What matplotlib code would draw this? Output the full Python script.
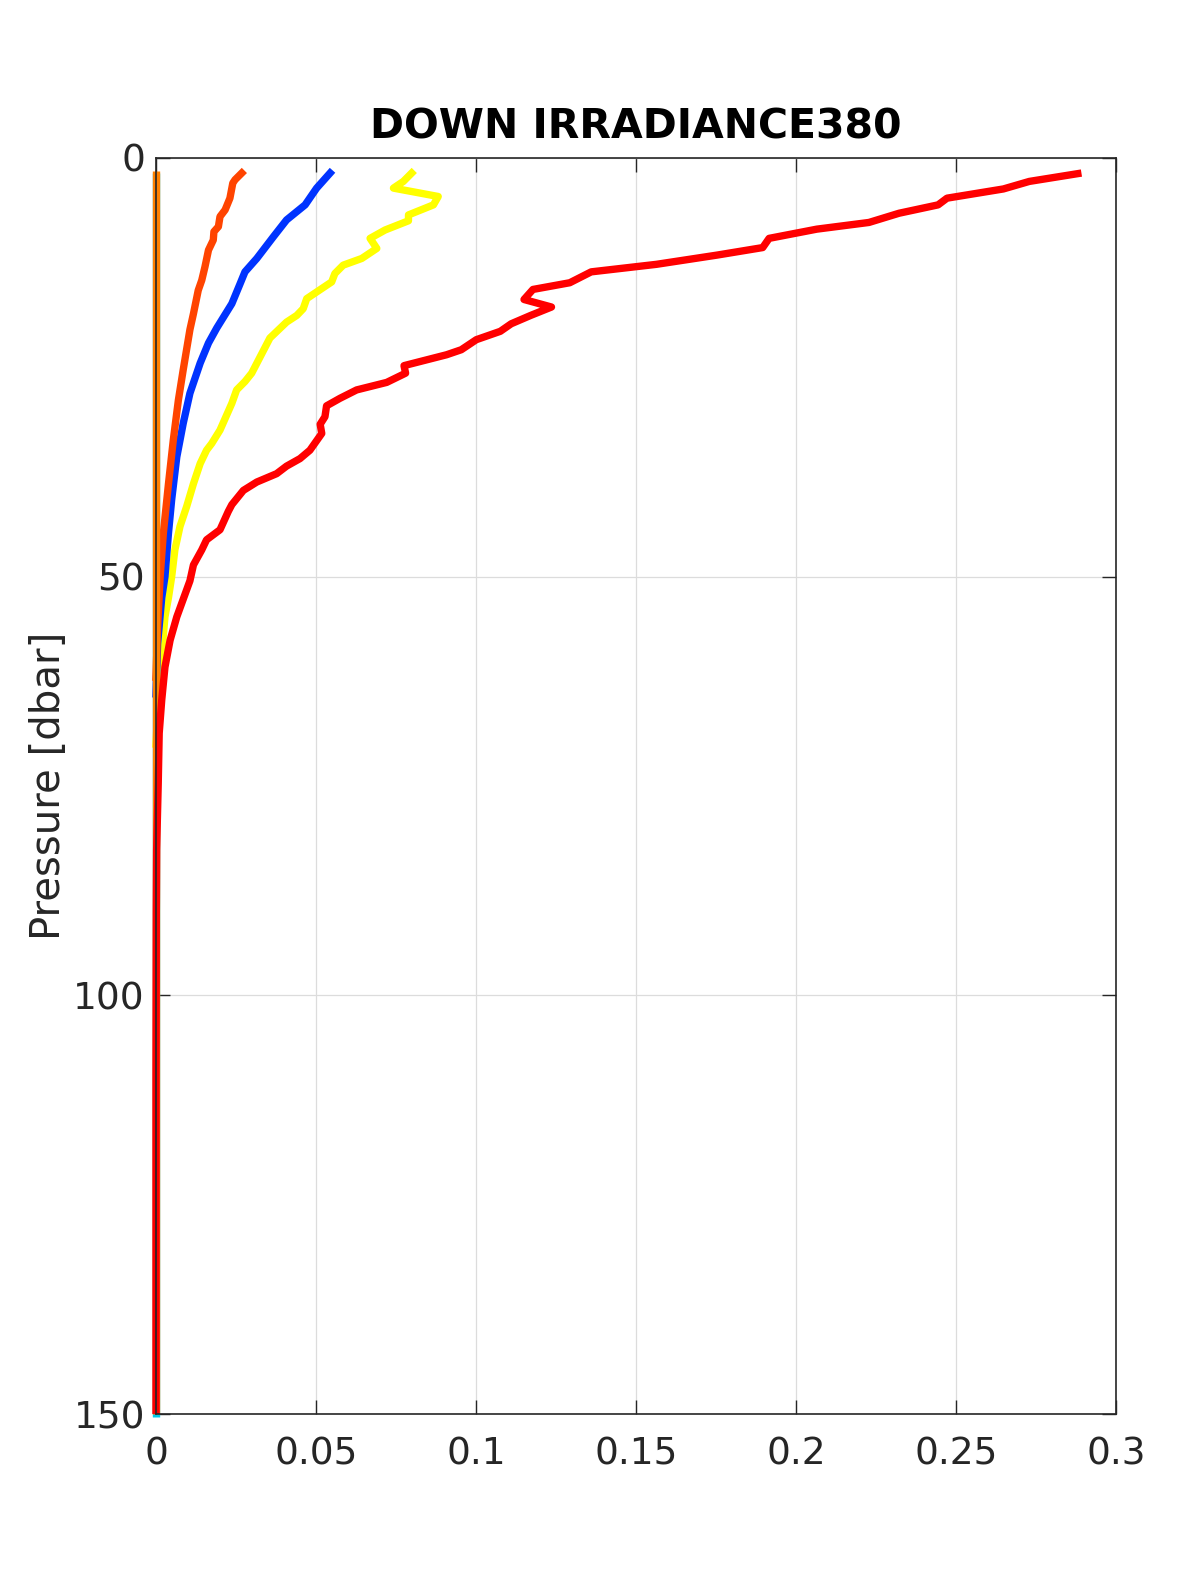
import matplotlib
matplotlib.use("Agg")
import matplotlib.pyplot as plt

# Red profile
red_x = [0.2892, 0.2729, 0.2648, 0.2472, 0.2444, 0.2322, 0.2228, 0.2065, 0.1916, 0.1896,
         0.1753, 0.1564, 0.1360, 0.1293, 0.1178, 0.1150, 0.1236, 0.1171, 0.1110, 0.1076,
         0.1001, 0.0954, 0.0908, 0.0775, 0.0780, 0.0721, 0.0627, 0.0575, 0.0533, 0.0528,
         0.0513, 0.0518, 0.0481, 0.0450, 0.0408, 0.0377, 0.0315, 0.0273, 0.0237, 0.0226,
         0.0200, 0.0158, 0.0143, 0.0117, 0.0106, 0.0085, 0.0065, 0.0044, 0.0028, 0.0018,
         0.0010, 0.0007, 0.0002, 0.0001, 0.0, 0.0]
red_p = [1.8, 2.8, 3.7, 4.8, 5.6, 6.6, 7.7, 8.5, 9.6, 10.7,
         11.6, 12.7, 13.6, 14.9, 15.7, 16.9, 17.8, 18.8, 19.8, 20.7,
         21.7, 22.9, 23.5, 24.8, 25.7, 26.8, 27.7, 28.7, 29.6, 30.9,
         31.8, 32.9, 34.9, 35.9, 36.8, 37.7, 38.7, 39.7, 41.4, 42.2,
         44.4, 45.6, 46.8, 48.6, 50.5, 52.7, 54.8, 57.6, 60.8, 64.7,
         68.7, 74.7, 82.6, 90.0, 110.0, 150.0]

# Orange-red profile
ored_x = [0.0268, 0.0247, 0.0240, 0.0231, 0.0216, 0.0200, 0.0195, 0.0181, 0.0179, 0.0164,
          0.0153, 0.0143, 0.0132, 0.0117, 0.0106, 0.0085, 0.0070, 0.0054, 0.0039, 0.0023,
          0.0013, 0.0005, 0.0]
ored_p = [1.8, 2.6, 3.0, 4.8, 6.2, 7.0, 8.2, 8.8, 9.8, 11.0,
          13.0, 14.6, 15.8, 18.6, 20.5, 25.3, 28.9, 33.7, 38.9, 44.8,
          50.0, 56.0, 62.0]

# Blue profile
blue_x = [0.0544, 0.0502, 0.0466, 0.0408, 0.0367, 0.0315, 0.0278, 0.0263, 0.0237, 0.0190,
          0.0164, 0.0138, 0.0106, 0.0085, 0.0065, 0.0049, 0.0039, 0.0028, 0.0018, 0.0005, 0.0]
blue_p = [1.8, 3.6, 5.6, 7.4, 9.4, 12.0, 13.6, 15.0, 17.4, 20.3,
          22.1, 24.5, 28.1, 31.7, 35.7, 40.8, 44.8, 50.0, 52.5, 58.0, 64.0]

# Yellow profile
yel_x = [0.0799, 0.0773, 0.0742, 0.0882, 0.0867, 0.0789, 0.0789, 0.0716, 0.0669, 0.0690,
         0.0643, 0.0585, 0.0559, 0.0549, 0.0471, 0.0460, 0.0440, 0.0408, 0.0356, 0.0299,
         0.0278, 0.0252, 0.0237, 0.0200, 0.0174, 0.0158, 0.0138, 0.0117, 0.0096, 0.0075,
         0.0059, 0.0049, 0.0039, 0.0028, 0.0010, 0.0]
yel_p = [1.8, 2.8, 3.6, 4.6, 5.6, 6.8, 7.5, 8.6, 9.6, 10.8,
         12.0, 12.8, 13.8, 14.8, 16.8, 18.0, 18.8, 19.6, 21.5, 25.7,
         26.7, 27.7, 29.3, 32.5, 34.1, 34.9, 36.5, 38.9, 41.6, 44.0,
         46.8, 50.0, 52.5, 54.8, 62.7, 70.0]

# Orange and cyan profiles (zero)
orange_x = [0.0, 0.0]
orange_p = [1.6, 150.0]
cyan_x = [0.0, 0.0]
cyan_p = [1.8, 150.3]

xticks = [0, 0.05, 0.1, 0.15, 0.2, 0.25, 0.3]
xticklabels = ["0", "0.05", "0.1", "0.15", "0.2", "0.25", "0.3"]
yticks = [0, 50, 100, 150]
yticklabels = ["0", "50", "100", "150"]

fig = plt.figure(figsize=(12, 15.75), dpi=100)
ax = fig.add_axes([0.13, 0.1022, 0.80, 0.7975])

lw = 5.3
kw = dict(lw=lw, clip_on=False)
ax.plot(cyan_x, cyan_p, color="#00C8E6", solid_capstyle="butt", **kw)
ax.plot(yel_x, yel_p, color="#FFFF00", **kw)
ax.plot(blue_x, blue_p, color="#0033FF", **kw)
ax.plot(ored_x, ored_p, color="#FF4400", **kw)
ax.plot(orange_x, orange_p, color="#FF8000", solid_capstyle="butt", **kw)
ax.plot(red_x, red_p, color="#FF0000", solid_capstyle="butt", **kw)

ax.set_xlim(0, 0.3)
ax.set_ylim(150, 0)
ax.set_xticks(xticks)
ax.set_xticklabels(xticklabels)
ax.set_yticks(yticks)
ax.set_yticklabels(yticklabels)

ax.grid(True, color="#dcdcdc", lw=0.9)
ax.set_axisbelow(True)
for s in ax.spines.values():
    s.set_color("#262626")
    s.set_linewidth(1.2)
ax.tick_params(direction="in", length=10, width=1.0, colors="#262626",
               labelsize=27, top=True, right=True)
ax.tick_params(axis="x", pad=16)
ax.tick_params(axis="y", pad=8)

ax.set_ylabel("Pressure [dbar]", fontsize=29, color="#262626", labelpad=3)
ax.set_title("DOWN IRRADIANCE380", fontsize=29.5, fontweight="bold", pad=14)

fig.savefig("out.png", dpi=100)
